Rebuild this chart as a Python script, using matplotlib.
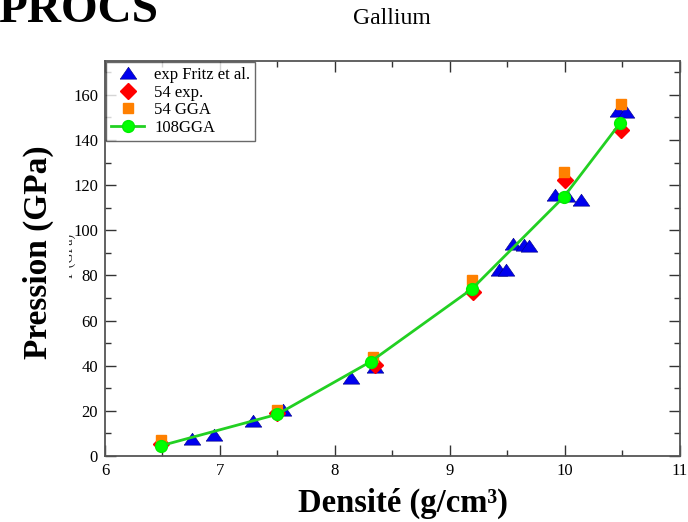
import matplotlib
matplotlib.use("Agg")
import matplotlib.pyplot as plt
from matplotlib.ticker import MultipleLocator
from matplotlib.patches import Rectangle

plt.rcParams['font.family'] = ['Liberation Serif', 'DejaVu Serif']

# 108GGA (line + circles)
gga108_x = [6.49, 7.50, 8.31, 9.19, 9.99, 10.48]
gga108_y = [4.6, 18.5, 41.8, 74.0, 114.8, 147.5]
# 54 GGA (squares)
gga54_x = [6.49, 7.50, 8.33, 9.19, 9.99, 10.49]
gga54_y = [7.0, 20.6, 43.9, 77.9, 125.8, 155.8]
# 54 exp (diamonds)
exp54_x = [6.49, 7.50, 8.35, 9.20, 10.00, 10.49]
exp54_y = [5.5, 19.0, 40.5, 72.5, 122.5, 144.5]
# exp Fritz et al. (triangles)
fritz_x = [6.76, 6.95, 7.29, 7.55, 8.14, 8.35, 9.43, 9.49, 9.55, 9.64, 9.69,
           9.91, 10.02, 10.14, 10.46, 10.53]
fritz_y = [7.5, 9.5, 15.5, 20.5, 34.5, 39.5, 82.5, 82.5, 94.0, 93.5, 93.0,
           115.5, 115.0, 113.5, 153.0, 152.5]

labels = ["exp Fritz et al.", "54 exp.", "54 GGA", "108GGA"]

tri = [(-1.25, -0.85), (1.25, -0.85), (0.0, 0.95), (-1.25, -0.85)]

fig = plt.figure(figsize=(6.88, 5.22), dpi=100)
ax = fig.add_axes([105/688, 66/522, 575/688, 395/522])

ax.plot(fritz_x, fritz_y, linestyle='none', marker=tri, ms=12,
        color='#0000ee', markeredgecolor='#000080', markeredgewidth=0.4,
        label=labels[0], zorder=3)
ax.plot(exp54_x, exp54_y, linestyle='none', marker='D', ms=8,
        color='#ff0000', markeredgecolor='#ff0000', label=labels[1], zorder=4)
ax.plot(gga54_x, gga54_y, linestyle='none', marker='s', ms=7.5,
        color='#ff8000', markeredgecolor='#ff8000', label=labels[2], zorder=5)
ax.plot(gga108_x, gga108_y, linestyle='-', lw=2, color='#22d022',
        marker='o', ms=8.5, markerfacecolor='#00ff00',
        markeredgecolor='#00ee00', label=labels[3], zorder=6)

ax.set_xlim(6, 11)
ax.set_ylim(0, 175)
ax.xaxis.set_major_locator(MultipleLocator(1))
ax.xaxis.set_minor_locator(MultipleLocator(0.5))
ax.yaxis.set_major_locator(MultipleLocator(20))
ax.yaxis.set_minor_locator(MultipleLocator(10))
ax.tick_params(which='both', direction='in', top=True, right=True,
               color='#333333', width=1.0, labelsize=12, pad=5)
ax.tick_params(which='major', length=8)
ax.tick_params(which='minor', length=4.5)
for s in ax.spines.values():
    s.set_color('#555555')
    s.set_linewidth(1.3)

leg = ax.legend(loc='upper left', bbox_to_anchor=(0.0, 1.0), fontsize=12,
                frameon=True, fancybox=False, edgecolor='#444444',
                borderaxespad=0.05, handlelength=2.0, handletextpad=0.6,
                labelspacing=0.1, borderpad=0.3)
leg.get_frame().set_linewidth(1.0)

fig.text(392/688, 1 - 19/522, "Gallium", ha='center', va='center',
         fontsize=17)
fig.text(-2/688, 1 - 22/522, "PROCS", ha='left', va='baseline',
         fontsize=34, fontweight='bold')
fig.text(38/688, 1 - 252/522, "Pression (GPa)", ha='center', va='center',
         rotation=90, fontsize=24, fontweight='bold')
fig.text(403/688, 1 - 503/522, "Densité (g/cm³)", ha='center', va='center',
         fontsize=23.5, fontweight='bold')

# faint partly hidden residual label behind the big y label
ghost = fig.text(69/688, 1 - 256/522, "P (GPa)", ha='center', va='center',
                 rotation=90, fontsize=10, color='#222222')
clip = Rectangle((69, 0), 7, 522, transform=None)
ghost.set_clip_path(clip)
ghost.set_clip_on(True)

fig.savefig("out.png", dpi=100)
